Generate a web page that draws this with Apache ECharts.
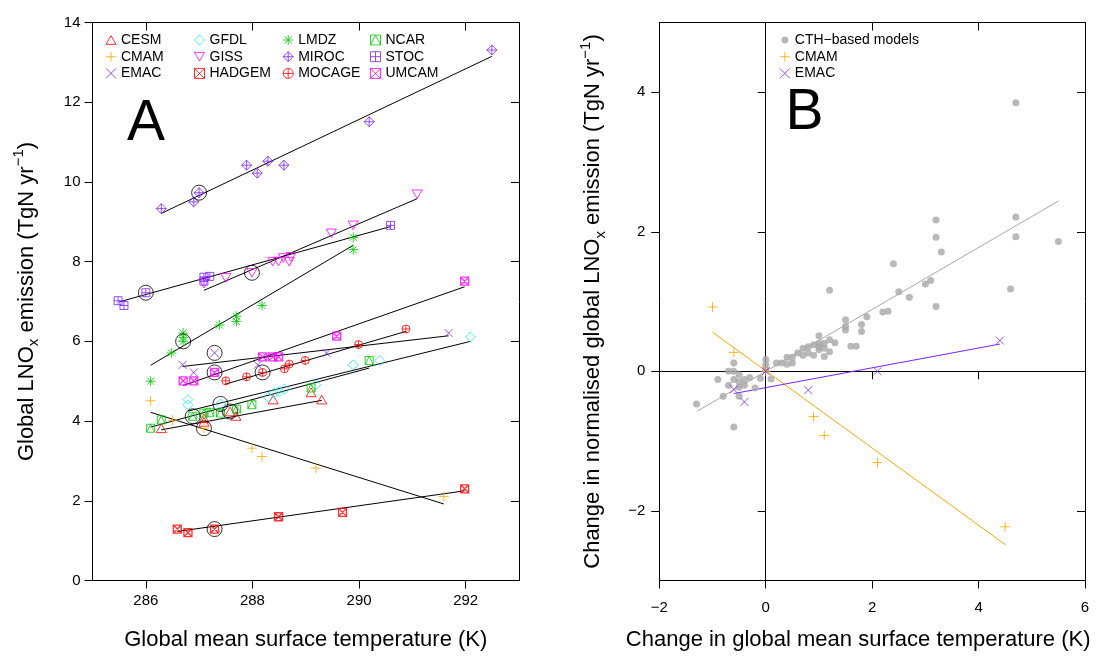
<!DOCTYPE html>
<html>
<head>
<meta charset="utf-8">
<script src="https://cdn.jsdelivr.net/npm/echarts@6/dist/echarts.min.js"></script>
<style>
  html, body { margin: 0; padding: 0; background: #fff; }
  #chart { width: 1110px; height: 657px; }
</style>
</head>
<body>
<div id="chart"></div>
<script>
// ---------------- Panel A: per-model LNOx emission vs temperature ----------------
// [global mean surface temperature (K), global LNOx emission (TgN/yr)]
const CESM   = [[286.29,3.82],[287.09,4.07],[287.09,3.98],[287.58,4.24],[287.69,4.13],[288.39,4.54],[289.10,4.72],[289.30,4.54]];
const CMAM   = [[286.09,4.51],[286.50,4.02],[287.09,3.82],[287.99,3.32],[288.18,3.11],[289.19,2.82],[291.59,2.11]];
const EMAC   = [[286.69,5.41],[286.90,5.22],[287.29,5.71],[288.10,5.41],[289.39,5.71],[291.68,6.21]];
const GFDL   = [[286.79,4.54],[286.79,4.41],[287.40,4.43],[288.30,4.60],[288.41,4.70],[288.50,4.74],[288.60,4.80],[289.19,4.91],[289.89,5.41],[290.39,5.52],[292.09,6.11]];
const GISS   = [[287.09,7.45],[287.50,7.59],[287.99,7.72],[288.38,8.00],[288.49,8.00],[288.58,8.09],[288.69,8.00],[288.72,8.12],[289.48,8.71],[289.89,8.91],[291.09,9.69]];
const HADGEM = [[286.59,1.29],[286.79,1.20],[287.29,1.29],[288.49,1.60],[289.69,1.71],[291.98,2.30]];
const LMDZ   = [[286.09,5.00],[286.48,5.71],[286.70,6.21],[286.70,6.10],[286.70,6.00],[287.38,6.41],[287.70,6.63],[287.70,6.50],[288.18,6.90],[289.89,8.61],[289.89,8.30]];
const MIROC  = [[286.29,9.33],[286.90,9.50],[287.00,9.73],[287.89,10.42],[288.09,10.22],[288.29,10.52],[288.59,10.42],[290.19,11.51],[292.49,13.31]];
const MOCAGE = [[287.50,5.01],[287.89,5.11],[288.19,5.22],[288.60,5.31],[288.69,5.43],[288.99,5.52],[289.99,5.92],[290.88,6.31]];
const NCAR   = [[286.09,3.82],[286.29,4.03],[286.88,4.12],[287.09,4.20],[287.20,4.22],[287.40,4.20],[287.70,4.30],[287.99,4.41],[289.10,4.83],[290.19,5.52]];
const STOC   = [[285.48,7.02],[285.59,6.90],[286.00,7.22],[287.09,7.61],[287.20,7.63],[287.09,7.51],[290.59,8.91]];
const UMCAM  = [[286.70,5.01],[286.90,5.01],[287.29,5.22],[288.19,5.61],[288.38,5.61],[288.49,5.61],[289.58,6.13],[291.98,7.51]];

// Linear fits per model: [start, end]
const CESM_FIT   = [[286.29,3.78],[289.30,4.52]];
const CMAM_FIT   = [[286.09,4.22],[291.59,1.92]];
const EMAC_FIT   = [[286.69,5.37],[291.68,6.14]];
const GFDL_FIT   = [[286.79,4.25],[292.09,6.00]];
const GISS_FIT   = [[287.09,7.28],[291.09,9.58]];
const HADGEM_FIT = [[286.59,1.23],[291.98,2.25]];
const LMDZ_FIT   = [[286.09,5.40],[289.89,8.41]];
const MIROC_FIT  = [[286.29,9.21],[292.49,13.15]];
const MOCAGE_FIT = [[287.48,4.92],[290.88,6.25]];
const NCAR_FIT   = [[286.09,3.85],[290.19,5.33]];
const STOC_FIT   = [[285.50,6.99],[290.59,8.88]];
const UMCAM_FIT  = [[286.70,4.89],[291.98,7.37]];

// Base simulation of each model (ringed)
const BASE_RUNS = [[287.58,4.24],[287.09,3.82],[287.29,5.71],[287.40,4.43],[287.99,7.72],[287.29,1.29],
                   [286.70,6.00],[287.00,9.73],[288.19,5.22],[286.88,4.12],[286.00,7.22],[287.29,5.22]];

const X_TICKS_A = [286, 288, 290, 292];

// ---------------- Panel B: changes relative to base run ----------------
// [change in temperature (K), change in normalised LNOx emission (TgN/yr)]
const CTH = [[4.70,3.85],[4.70,2.21],[3.20,2.17],[3.20,1.92],[4.70,1.93],[5.50,1.86],[3.30,1.71],[2.40,1.54],
  [1.20,1.16],[4.60,1.18],[2.50,1.14],[2.70,1.06],[3.10,1.30],[3.00,1.25],[3.20,0.93],[2.20,0.85],[2.30,0.86],
  [1.90,0.78],[1.50,0.74],[1.50,0.64],[1.50,0.59],[1.80,0.67],[1.80,0.57],[1.60,0.36],[1.70,0.36],[1.00,0.51],
  [1.30,0.41],[1.20,0.45],[1.20,0.28],[1.10,0.40],[1.10,0.21],[1.10,0.33],[1.00,0.40],[1.00,0.35],[1.00,0.31],
  [0.90,0.38],[0.90,0.23],[0.80,0.35],[0.80,0.26],[0.70,0.33],[0.70,0.23],[0.60,0.26],[0.50,0.20],[0.50,0.12],
  [0.40,0.20],[0.40,0.10],[0.30,0.12],[0.20,0.12],[0.00,0.17],[0.00,0.09],[0.00,0.02],[0.10,-0.11],[-0.10,-0.10],
  [-0.20,-0.24],[-0.30,-0.09],[-0.40,-0.12],[-0.40,-0.20],[-0.50,-0.05],[-0.50,-0.15],[-0.50,-0.23],[-0.60,0.12],
  [-0.60,0.00],[-0.70,0.00],[-0.60,-0.12],[-0.70,-0.20],[-0.50,-0.36],[-0.90,-0.12],[-0.80,-0.36],[-1.30,-0.47],
  [-0.60,-0.80]];
const CMAM_CHG = [[-1.00,0.92],[-0.60,0.27],[0,0],[0.90,-0.65],[1.10,-0.92],[2.10,-1.31],[4.50,-2.23]];
const EMAC_CHG = [[-0.60,-0.26],[-0.40,-0.44],[0,0],[0.80,-0.27],[2.10,0.00],[4.40,0.44]];

const CTH_FIT      = [[-1.28,-0.57],[5.50,2.44]];
const CMAM_CHG_FIT = [[-1.00,0.56],[4.51,-2.49]];
const EMAC_CHG_FIT = [[-0.60,-0.32],[4.40,0.39]];

const Y_TICKS_B = [-2, 0, 2, 4];

// ---------------- styling ----------------
const FONT = '"Liberation Sans", Arial, Helvetica, sans-serif';
const RED = '#ff0000', ORANGE = '#ffa500', PURPLE = '#7b22ff', CYAN = '#1ee6ee',
      MAGENTA = '#ff00ff', GREEN = '#00c800', GREY = '#a8a8a8';

const SYM = {
  triUp:       'path://M5,0L10,8.66L0,8.66Z',
  triDown:     'path://M0,0L10,0L5,8.66Z',
  plus:        'path://M5,0L5,10M0,5L10,5',
  cross:       'path://M0,0L10,10M10,0L0,10',
  diamond:     'path://M5,0L10,5L5,10L0,5Z',
  boxCross:    'path://M0,0L10,0L10,10L0,10ZM0,0L10,10M10,0L0,10',
  star:        'path://M5,0L5,10M0,5L10,5M1.46,1.46L8.54,8.54M8.54,1.46L1.46,8.54',
  diamondPlus: 'path://M5,0L10,5L5,10L0,5ZM5,0L5,10M0,5L10,5',
  circlePlus:  'path://M0,5A5,5,0,1,1,10,5A5,5,0,1,1,0,5ZM5,0L5,10M0,5L10,5',
  boxPlus:     'path://M0,0L10,0L10,10L0,10ZM5,0L5,10M0,5L10,5',
  boxTri:      'path://M0,0L10,0L10,10L0,10ZM0,10L5,0L10,10',
  // small dot centred in a 10x10 box, used for the legend key
  smallDot:    'path://M0,0L0,0M10,10L10,10M2,5A3,3,0,1,1,8,5A3,3,0,1,1,2,5Z'
};

function pointSeries(name, data, color, symbol, size, xi, yi, lw) {
  return {
    type: 'scatter', name, data, xAxisIndex: xi, yAxisIndex: yi,
    symbol, symbolSize: size, symbolKeepAspect: true, silent: true, z: 4,
    itemStyle: { color: 'transparent', borderColor: color, borderWidth: lw || 1 }
  };
}
function fitSeries(name, data, color, xi, yi) {
  return {
    type: 'line', name, data, xAxisIndex: xi, yAxisIndex: yi,
    symbol: 'none', silent: true, z: 3,
    lineStyle: { color, width: 1 }
  };
}

const modelsA = [
  ['CESM', CESM, CESM_FIT, RED, SYM.triUp, 10],
  ['CMAM', CMAM, CMAM_FIT, ORANGE, SYM.plus, 10],
  ['EMAC', EMAC, EMAC_FIT, PURPLE, SYM.cross, 8],
  ['GFDL', GFDL, GFDL_FIT, CYAN, SYM.diamond, 10],
  ['GISS', GISS, GISS_FIT, MAGENTA, SYM.triDown, 10],
  ['HADGEM', HADGEM, HADGEM_FIT, RED, SYM.boxCross, 8],
  ['LMDZ', LMDZ, LMDZ_FIT, GREEN, SYM.star, 10],
  ['MIROC', MIROC, MIROC_FIT, PURPLE, SYM.diamondPlus, 10],
  ['MOCAGE', MOCAGE, MOCAGE_FIT, RED, SYM.circlePlus, 8],
  ['NCAR', NCAR, NCAR_FIT, GREEN, SYM.boxTri, 8],
  ['STOC', STOC, STOC_FIT, PURPLE, SYM.boxPlus, 8],
  ['UMCAM', UMCAM, UMCAM_FIT, MAGENTA, SYM.boxCross, 8]
];

const series = [];
modelsA.forEach(([name, pts, fit, color, sym, size]) => {
  series.push(pointSeries(name, pts, color, sym, size, 0, 0, (sym === SYM.boxCross) ? 1.3 : 1));
  series.push(fitSeries(name + ' fit', fit, '#000', 0, 0));
});
series.push({
  type: 'scatter', name: 'base run', data: BASE_RUNS, xAxisIndex: 0, yAxisIndex: 0,
  symbol: 'circle', symbolSize: 15, silent: true, z: 5,
  itemStyle: { color: 'transparent', borderColor: '#000', borderWidth: 1 }
});

const CTH_NAME = 'CTH\u2212based models';
series.push({
  type: 'scatter', name: CTH_NAME, data: CTH, xAxisIndex: 2, yAxisIndex: 2,
  symbol: 'circle', symbolSize: 7, silent: true, z: 4,
  itemStyle: { color: GREY, borderColor: GREY, borderWidth: 0 }
});
series.push(fitSeries('CTH fit', CTH_FIT, GREY, 2, 2));
series.push(pointSeries('CMAM', CMAM_CHG, ORANGE, SYM.plus, 10, 2, 2));
series.push(fitSeries('CMAM change fit', CMAM_CHG_FIT, ORANGE, 2, 2));
series.push(pointSeries('EMAC', EMAC_CHG, PURPLE, SYM.cross, 8, 2, 2));
series.push(fitSeries('EMAC change fit', EMAC_CHG_FIT, PURPLE, 2, 2));

const minusFmt = v => String(v).replace('-', '\u2212');
const axisLineStyle = { show: true, onZero: false, lineStyle: { color: '#000', width: 1 } };
const tickOut = { show: true, inside: false, length: 8, lineStyle: { color: '#000', width: 1 } };
const tickIn  = { show: true, inside: true,  length: 8, lineStyle: { color: '#000', width: 1 } };
const labelStyle = { color: '#000', fontSize: 15, fontFamily: FONT };
const titleRich = {
  t: { fontSize: 22, lineHeight: 30, fontFamily: FONT, color: '#000' },
  s: { fontSize: 15, lineHeight: 22, verticalAlign: 'bottom', fontFamily: FONT, color: '#000' },
  p: { fontSize: 15, lineHeight: 14, verticalAlign: 'top', fontFamily: FONT, color: '#000' }
};

function legendCol(names, left, top) {
  return {
    data: names, orient: 'vertical', left, top, padding: 0,
    itemWidth: 10, itemHeight: 10, itemGap: 0.7, selectedMode: false,
    textStyle: { fontSize: 14, lineHeight: 16, fontFamily: FONT, color: '#000' },
    itemStyle: { borderWidth: 1 }
  };
}

const option = {
  animation: false,
  backgroundColor: '#fff',
  textStyle: { fontFamily: FONT },
  grid: [
    { left: 92.5, top: 22.5, width: 426.5, height: 558, outerBoundsMode: 'none' },
    { left: 659.3, top: 22.5, width: 425.7, height: 558, outerBoundsMode: 'none' }
  ],
  legend: [
    legendCol(['CESM', 'CMAM', 'EMAC'], 105.5, 32),
    legendCol(['GFDL', 'GISS', 'HADGEM'], 194, 32),
    legendCol(['LMDZ', 'MIROC', 'MOCAGE'], 282.7, 32),
    legendCol(['NCAR', 'STOC', 'UMCAM'], 370, 32),
    legendCol([{ name: CTH_NAME, icon: SYM.smallDot }, 'CMAM', 'EMAC'], 779.3, 32)
  ],
  xAxis: [
    { gridIndex: 0, type: 'value', position: 'bottom', min: 285, max: 293,
      axisLine: axisLineStyle, splitLine: { show: false },
      axisTick: Object.assign({ customValues: X_TICKS_A }, tickOut),
      axisLabel: Object.assign({ customValues: X_TICKS_A, margin: 13 }, labelStyle),
      name: 'Global mean surface temperature (K)', nameLocation: 'middle', nameGap: 48,
      nameTextStyle: { fontSize: 22, fontFamily: FONT, color: '#000' } },
    { gridIndex: 0, type: 'value', position: 'top', min: 285, max: 293,
      axisLine: axisLineStyle, splitLine: { show: false },
      axisTick: Object.assign({ customValues: X_TICKS_A }, tickIn),
      axisLabel: { show: false } },
    { gridIndex: 1, type: 'value', position: 'bottom', min: -2, max: 6, interval: 2,
      axisLine: axisLineStyle, splitLine: { show: false }, axisTick: tickOut,
      axisLabel: Object.assign({ margin: 20, formatter: minusFmt }, labelStyle),
      name: 'Change in global mean surface temperature (K)', nameLocation: 'middle', nameGap: 48,
      nameTextStyle: { fontSize: 22, fontFamily: FONT, color: '#000', padding: [0, 28, 0, 0] } },
    { gridIndex: 1, type: 'value', position: 'top', min: -2, max: 6, interval: 2,
      axisLine: axisLineStyle, splitLine: { show: false }, axisTick: tickIn,
      axisLabel: { show: false } },
    { gridIndex: 1, type: 'value', position: 'bottom', min: -2, max: 6, interval: 2,
      axisLine: { show: true, onZero: true, onZeroAxisIndex: 2, lineStyle: { color: '#000', width: 1 } },
      splitLine: { show: false },
      axisTick: Object.assign({ customValues: [2, 4] }, tickOut),
      axisLabel: { show: false } }
  ],
  yAxis: [
    { gridIndex: 0, type: 'value', position: 'left', min: 0, max: 14, interval: 2,
      axisLine: axisLineStyle, splitLine: { show: false }, axisTick: tickOut,
      axisLabel: Object.assign({ margin: 12 }, labelStyle),
      name: '{t|Global LNO}{s|x}{t| emission (TgN yr}{p|\u22121}{t|)}',
      nameLocation: 'middle', nameGap: 51, nameTextStyle: { rich: titleRich } },
    { gridIndex: 0, type: 'value', position: 'right', min: 0, max: 14, interval: 2,
      axisLine: axisLineStyle, splitLine: { show: false }, axisTick: tickIn,
      axisLabel: { show: false } },
    { gridIndex: 1, type: 'value', position: 'left', min: -3, max: 5,
      axisLine: axisLineStyle, splitLine: { show: false },
      axisTick: Object.assign({ customValues: Y_TICKS_B }, tickOut),
      axisLabel: Object.assign({ customValues: Y_TICKS_B, margin: 14, formatter: minusFmt }, labelStyle),
      name: '{t|Change in normalised global LNO}{s|x}{t| emission (TgN yr}{p|\u22121}{t|)}',
      nameLocation: 'middle', nameGap: 51, nameTextStyle: { rich: titleRich } },
    { gridIndex: 1, type: 'value', position: 'right', min: -3, max: 5,
      axisLine: axisLineStyle, splitLine: { show: false },
      axisTick: Object.assign({ customValues: Y_TICKS_B }, tickIn),
      axisLabel: { show: false } },
    { gridIndex: 1, type: 'value', position: 'left', min: -3, max: 5,
      axisLine: { show: true, onZero: true, onZeroAxisIndex: 2, lineStyle: { color: '#000', width: 1 } },
      splitLine: { show: false },
      axisTick: Object.assign({ customValues: [-2, 2, 4] }, tickOut),
      axisLabel: { show: false } }
  ],
  graphic: [
    { type: 'text', x: 146, y: 124, silent: true,
      style: { text: 'A', font: '57px "Liberation Sans", Arial, sans-serif', fill: '#000', align: 'center', verticalAlign: 'middle' } },
    { type: 'text', x: 804.5, y: 113, silent: true,
      style: { text: 'B', font: '57px "Liberation Sans", Arial, sans-serif', fill: '#000', align: 'center', verticalAlign: 'middle' } }
  ],
  series
};

const chart = echarts.init(document.getElementById('chart'), null, { renderer: 'canvas' });
chart.setOption(option);
</script>
</body>
</html>
